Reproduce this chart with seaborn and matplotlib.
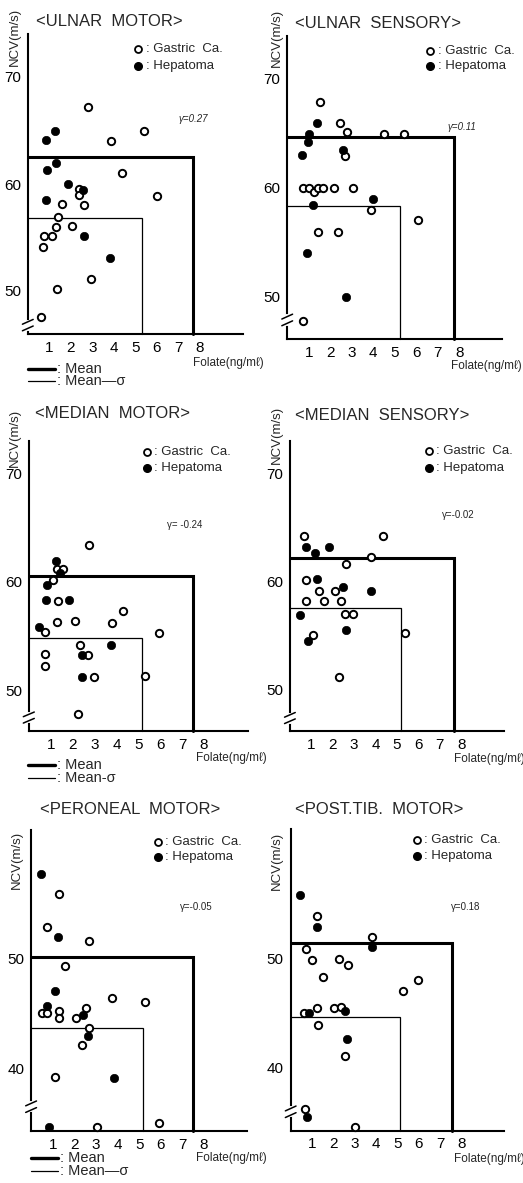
import matplotlib
matplotlib.use("Agg")
import matplotlib.pyplot as plt
import seaborn as sns
import pandas as pd
from matplotlib import font_manager

# ---------------- data ----------------
titles = ["<ULNAR  MOTOR>", "<ULNAR  SENSORY>", "<MEDIAN  MOTOR>",
          "<MEDIAN  SENSORY>", "<PERONEAL  MOTOR>", "<POST.TIB.  MOTOR>"]
r_labels = ["γ=0.27", "γ=0.11", "γ= -0.24", "γ=-0.02", "γ=-0.05", "γ=0.18"]
mean_folate = [7.66, 7.74, 7.48, 7.67, 7.50, 7.56]
mean_ncv = [62.5, 64.7, 60.5, 62.2, 50.2, 51.4]
msd_folate = [5.29, 5.24, 5.18, 5.20, 5.16, 5.14]
msd_ncv = [56.8, 58.3, 54.8, 57.5, 43.7, 44.6]
x_ticks = [1, 2, 3, 4, 5, 6, 7, 8]
y_ticks_upper = [50, 60, 70]
y_ticks_lower = [40, 50]

# ULNAR MOTOR
um_gastric_folate = [2.79, 5.38, 3.87, 4.37, 6.00, 2.36, 2.36, 1.57, 2.62, 1.40,
                     1.33, 2.05, 0.73, 1.13, 0.71, 2.95, 1.34, 0.60]
um_gastric_ncv = [67.2, 65.0, 64.0, 61.0, 58.9, 59.5, 59.0, 58.1, 58.0, 56.9,
                  56.0, 56.1, 55.1, 55.1, 54.1, 51.1, 50.2, 47.6]
um_hepatoma_folate = [0.83, 1.28, 1.30, 0.89, 1.88, 2.58, 0.86, 2.62, 3.80]
um_hepatoma_ncv = [64.1, 65.0, 62.0, 61.3, 60.0, 59.4, 58.5, 55.1, 53.1]

# ULNAR SENSORY
us_gastric_folate = [1.51, 2.47, 2.80, 4.49, 5.43, 2.70, 0.73, 1.00, 1.26, 1.43,
                     1.68, 2.16, 3.07, 3.91, 6.10, 1.42, 2.38, 0.73]
us_gastric_ncv = [67.9, 65.9, 65.1, 64.95, 64.95, 62.9, 60.0, 60.0, 59.6, 60.0,
                  60.0, 60.0, 60.0, 57.9, 57.0, 55.9, 55.9, 47.7]
us_hepatoma_folate = [1.37, 1.00, 0.95, 0.70, 2.61, 1.19, 3.98, 0.91, 2.73]
us_hepatoma_ncv = [65.9, 64.9, 64.2, 63.0, 63.5, 58.4, 58.9, 54.0, 49.95]

# MEDIAN MOTOR
mm_gastric_folate = [2.73, 1.27, 1.55, 1.10, 1.32, 4.30, 1.27, 2.10, 3.80, 0.75,
                     5.93, 2.35, 0.76, 2.70, 0.76, 2.98, 5.31, 2.23]
mm_gastric_ncv = [63.4, 61.2, 61.2, 60.15, 58.2, 57.3, 56.3, 56.4, 56.2, 55.35,
                  55.3, 54.2, 53.3, 53.2, 52.2, 51.2, 51.3, 47.8]
mm_hepatoma_folate = [1.23, 1.42, 0.85, 0.80, 1.82, 0.48, 2.41, 3.77, 2.44]
mm_hepatoma_ncv = [61.9, 60.8, 59.7, 58.3, 58.3, 55.8, 53.2, 54.15, 51.2]

# MEDIAN SENSORY
ms_gastric_folate = [0.67, 4.33, 3.78, 2.60, 0.75, 1.34, 2.09, 0.75, 1.58, 2.37,
                     2.57, 2.96, 5.39, 1.06, 2.29]
ms_gastric_ncv = [64.2, 64.2, 62.25, 61.6, 60.1, 59.1, 59.1, 58.2, 58.2, 58.2,
                  57.0, 57.0, 55.2, 55.0, 51.15]
ms_hepatoma_folate = [0.73, 1.82, 1.19, 1.26, 2.49, 3.78, 0.49, 2.62, 0.83]
ms_hepatoma_ncv = [63.2, 63.2, 62.6, 60.2, 59.5, 59.1, 56.85, 55.5, 54.5]

# PERONEAL MOTOR
pm_gastric_folate = [1.29, 0.72, 2.68, 1.57, 3.74, 5.28, 0.52, 0.74, 1.29, 1.29,
                     2.06, 2.54, 2.68, 2.34, 1.11, 5.93, 3.03]
pm_gastric_ncv = [55.9, 52.96, 51.6, 49.36, 46.46, 46.04, 45.09, 45.09, 45.2, 44.6,
                  44.6, 45.55, 43.66, 42.13, 39.23, 35.0, 34.66]
pm_hepatoma_folate = [0.47, 1.26, 1.11, 0.75, 2.42, 2.63, 3.83, 0.83]
pm_hepatoma_ncv = [57.75, 52.0, 47.07, 45.67, 44.85, 42.95, 39.1, 34.66]

# POST.TIB. MOTOR
pt_gastric_folate = [1.24, 3.83, 0.73, 1.01, 2.25, 2.70, 1.53, 5.97, 5.28, 0.64,
                     1.25, 2.03, 2.37, 1.29, 2.55, 0.69, 3.01]
pt_gastric_ncv = [53.9, 51.98, 50.85, 49.87, 49.96, 49.36, 48.3, 48.0, 47.03, 44.98,
                  45.4, 45.4, 45.5, 43.88, 41.07, 36.15, 34.52]
pt_hepatoma_folate = [0.44, 1.22, 3.80, 0.84, 2.53, 2.62, 0.78]
pt_hepatoma_ncv = [55.84, 52.9, 51.0, 44.95, 45.2, 42.57, 35.4]

panel_data = [
    (um_gastric_folate, um_gastric_ncv, um_hepatoma_folate, um_hepatoma_ncv),
    (us_gastric_folate, us_gastric_ncv, us_hepatoma_folate, us_hepatoma_ncv),
    (mm_gastric_folate, mm_gastric_ncv, mm_hepatoma_folate, mm_hepatoma_ncv),
    (ms_gastric_folate, ms_gastric_ncv, ms_hepatoma_folate, ms_hepatoma_ncv),
    (pm_gastric_folate, pm_gastric_ncv, pm_hepatoma_folate, pm_hepatoma_ncv),
    (pt_gastric_folate, pt_gastric_ncv, pt_hepatoma_folate, pt_hepatoma_ncv),
]

# ---------------- layout (pixels in a 523x1183 figure) ----------------
W, H = 523, 1183
ax_px = [
    (27.8, 243.1, 34.2, 333.8, (46.0, 74.0)),
    (287.2, 502.2, 35.6, 339.4, (46.0, 74.0)),
    (28.8, 247.8, 440.8, 731.2, (46.2, 73.0)),
    (289.9, 504.2, 440.9, 731.4, (46.1, 73.0)),
    (31.1, 247.3, 830.0, 1131.1, (34.25, 61.8)),
    (290.7, 504.0, 828.6, 1130.5, (34.2, 61.9)),
]
title_px = [(36, 22), (295, 24), (35, 413), (295, 415), (40, 810), (295, 810)]
ylab_px = [(15, 37), (277, 38), (15, 438), (277, 435), (17, 860), (277, 861)]
folate_px = [(193, 363), (451, 366), (196, 758), (454, 759), (196, 1158), (454, 1159)]
legend_fr = [(0.512, 0.951, 0.894), (0.666, 0.950, 0.901), (0.538, 0.962, 0.905),
             (0.648, 0.965, 0.908), (0.586, 0.961, 0.911), (0.592, 0.962, 0.910)]
r_fr = [(0.77, 0.717), (0.813, 0.699), (0.713, 0.709), (0.788, 0.745),
        (0.766, 0.744), (0.819, 0.741)]
break_fr = [0.029, 0.064, 0.047, 0.046, 0.081, 0.062]
meanleg_px = [(28, 369, 381, "Mean—σ"), (28, 765, 778, "Mean-σ"), (31, 1158, 1171, "Mean—σ")]

sns.set_style("white")
names = {f.name for f in font_manager.fontManager.ttflist}
if "Liberation Sans Narrow" in names:
    main_font = "Liberation Sans Narrow"
elif "Liberation Sans" in names:
    main_font = "Liberation Sans"
else:
    main_font = "DejaVu Sans"
plt.rcParams["font.family"] = [main_font, "DejaVu Sans"]

fig = plt.figure(figsize=(W / 100, H / 100), dpi=100)
fig.patch.set_facecolor("white")

for i in range(6):
    lpx, rpx, tpx, bpx, ylim = ax_px[i]
    ax = fig.add_axes([lpx / W, 1 - bpx / H, (rpx - lpx) / W, (bpx - tpx) / H])
    ax.set_facecolor("white")
    gx, gy, hx, hy = panel_data[i]
    df_g = pd.DataFrame({"Folate": gx, "NCV": gy})
    df_h = pd.DataFrame({"Folate": hx, "NCV": hy})
    sns.scatterplot(data=df_g, x="Folate", y="NCV", ax=ax, s=28, facecolor="white",
                    edgecolor="black", linewidth=1.4, zorder=4, clip_on=False)
    sns.scatterplot(data=df_h, x="Folate", y="NCV", ax=ax, s=36, color="black",
                    edgecolor="black", linewidth=0.5, zorder=5, clip_on=False)
    ax.set_xlim(0, 10)
    ax.set_ylim(*ylim)
    ax.plot([0, mean_folate[i], mean_folate[i]], [mean_ncv[i], mean_ncv[i], ylim[0]],
            color="black", lw=2.2, solid_joinstyle="miter", zorder=3, clip_on=False)
    ax.plot([0, msd_folate[i], msd_folate[i]], [msd_ncv[i], msd_ncv[i], ylim[0]],
            color="black", lw=0.9, solid_joinstyle="miter", zorder=3, clip_on=False)
    for s in ["top", "right"]:
        ax.spines[s].set_visible(False)
    for s in ["left", "bottom"]:
        ax.spines[s].set_linewidth(1.5)
        ax.spines[s].set_color("black")
    ax.set_xticks(x_ticks)
    ax.set_yticks(y_ticks_upper if i < 4 else y_ticks_lower)
    ax.tick_params(axis="both", direction="out", length=4, width=1.2, pad=1,
                   labelsize=11, colors="black")
    ax.set_xlabel("")
    ax.set_ylabel("")
    ax.grid(False)
    # axis break
    b = break_fr[i]
    ax.plot([0, 0], [b - 0.012, b + 0.012], transform=ax.transAxes, color="white",
            lw=3, zorder=6, clip_on=False)
    for off in (-0.011, 0.011):
        ax.plot([-0.025, 0.025], [b + off - 0.008, b + off + 0.008],
                transform=ax.transAxes, color="black", lw=1.1, zorder=7, clip_on=False)
    # legend
    lx, ly1, ly2 = legend_fr[i]
    ax.plot([lx], [ly1], marker="o", ms=5, mfc="white", mec="black", mew=1.3,
            transform=ax.transAxes, clip_on=False)
    ax.plot([lx], [ly2], marker="o", ms=5.5, mfc="black", mec="black",
            transform=ax.transAxes, clip_on=False)
    ax.text(lx + 0.035, ly1, ": Gastric  Ca.", transform=ax.transAxes, fontsize=9.5,
            ha="left", va="center")
    ax.text(lx + 0.035, ly2, ": Hepatoma", transform=ax.transAxes, fontsize=9.5,
            ha="left", va="center")
    # correlation
    rx, ry = r_fr[i]
    ax.text(rx, ry, r_labels[i], transform=ax.transAxes, fontsize=7,
            style="italic" if i < 2 else "normal", ha="center", va="center")
    # titles and axis labels
    tx, ty = title_px[i]
    fig.text(tx / W, 1 - ty / H, titles[i], fontsize=12, ha="left", va="center")
    yx, yy = ylab_px[i]
    fig.text(yx / W, 1 - yy / H, "NCV(m/s)", fontsize=9.5, rotation=90,
             ha="center", va="center")
    fx, fy = folate_px[i]
    fig.text(fx / W, 1 - fy / H, "Folate(ng/mℓ)", fontsize=8.5, ha="left", va="center")

for (x0, y1, y2, lab) in meanleg_px:
    fig.add_artist(plt.Line2D([x0 / W, (x0 + 27) / W], [1 - y1 / H, 1 - y1 / H],
                              color="black", lw=2.4))
    fig.add_artist(plt.Line2D([x0 / W, (x0 + 27) / W], [1 - y2 / H, 1 - y2 / H],
                              color="black", lw=0.9))
    fig.text((x0 + 29) / W, 1 - y1 / H, ": Mean", fontsize=10.5, ha="left", va="center")
    fig.text((x0 + 29) / W, 1 - y2 / H, ": " + lab, fontsize=10.5, ha="left", va="center")

fig.savefig("out.png", dpi=100, facecolor="white")
